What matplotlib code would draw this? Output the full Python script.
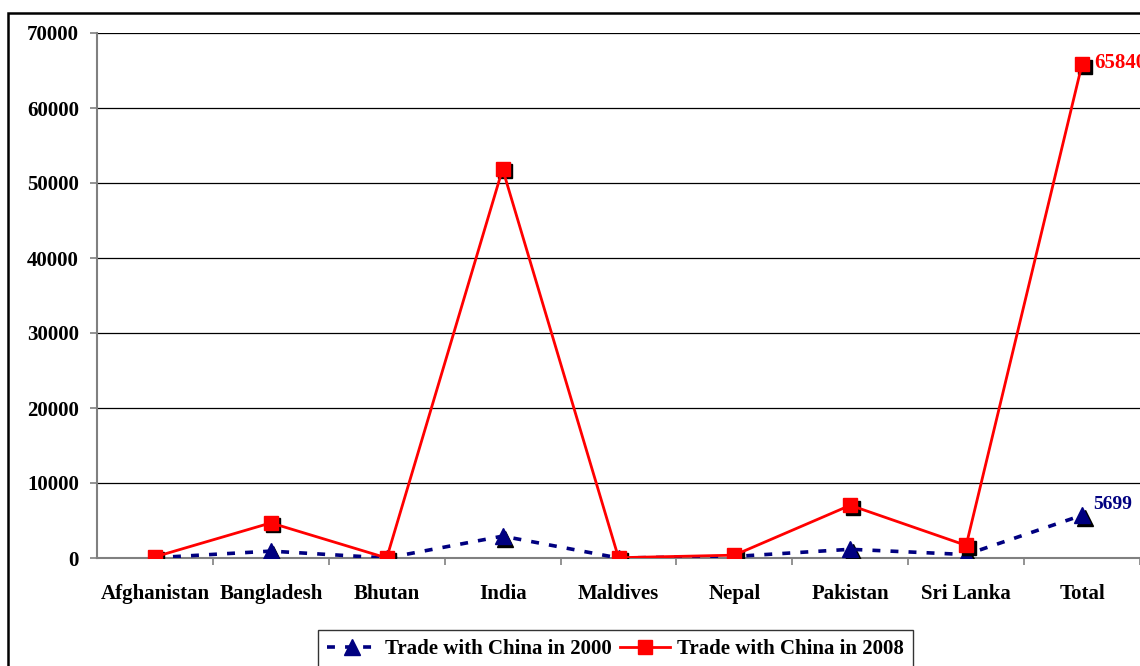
import matplotlib
matplotlib.use("Agg")
import matplotlib.pyplot as plt
import matplotlib.transforms as mtransforms
from matplotlib.patches import Rectangle
from matplotlib.lines import Line2D

# Bilateral trade with China (US$ million)
countries = ["Afghanistan", "Bangladesh", "Bhutan", "India", "Maldives",
             "Nepal", "Pakistan", "Sri Lanka", "Total"]
trade_2000 = [38, 918, 2, 2914, 3, 204, 1162, 458, 5699]
trade_2008 = [155, 4680, 5, 51870, 40, 380, 7030, 1680, 65840]
y_ticks = [0, 10000, 20000, 30000, 40000, 50000, 60000, 70000]

NAVY = "#000080"
RED = "#ff0000"
FONT = {"family": "Liberation Serif", "weight": "bold", "size": 15}

fig = plt.figure(figsize=(11.4, 6.66), dpi=100)
W, H = 1140, 666
ax = fig.add_axes([97 / W, (H - 558) / H, (W - 97) / W, (558 - 33) / H])

x = list(range(len(countries)))

# drop shadows for the markers
shadow = mtransforms.offset_copy(ax.transData, fig=fig, x=2.5, y=-2.5, units="dots")

ax.plot(x, trade_2000, linestyle="none", marker="^", markersize=11,
        color="black", transform=shadow, zorder=3)
ax.plot(x, trade_2000, linestyle=(0, (2.2, 2.8)), lw=2.6, color=NAVY,
        marker="^", markersize=11, markerfacecolor=NAVY, markeredgecolor=NAVY,
        zorder=4)

ax.plot(x, trade_2008, linestyle="none", marker="s", markersize=10,
        color="black", transform=shadow, zorder=5)
ax.plot(x, trade_2008, linestyle="-", lw=2.0, color=RED,
        marker="s", markersize=10, markerfacecolor=RED, markeredgecolor=RED,
        zorder=6)

# value labels at the totals
ax.annotate(f"{trade_2008[-1]}", (x[-1], trade_2008[-1]), xytext=(9, 1),
            textcoords="offset points", ha="left", va="center", color=RED,
            annotation_clip=False, **FONT)
ax.annotate(f"{trade_2000[-1]}", (x[-1], trade_2000[-1]), xytext=(8, 8),
            textcoords="offset points", ha="left", va="center", color=NAVY,
            annotation_clip=False, **{**FONT, "size": 14})

ax.set_xlim(-0.5, len(countries) - 0.5)
ax.set_ylim(0, 70000)
ax.set_yticks(y_ticks)
ax.set_yticklabels([str(v) for v in y_ticks], fontdict=FONT)
ax.yaxis.grid(True, color="black", lw=0.9)
ax.set_axisbelow(True)

ax.set_xticks(x)
ax.set_xticklabels(countries, fontdict=FONT)
ax.set_xticks([i + 0.5 for i in x], minor=True)
ax.tick_params(axis="x", which="major", length=0, pad=19)
ax.tick_params(axis="x", which="minor", length=5, color="#808080", width=1.2,
               direction="out")
ax.tick_params(axis="y", length=5, color="#808080", width=1.2, pad=8)

for side in ("top", "right"):
    ax.spines[side].set_visible(False)
for side in ("left", "bottom"):
    ax.spines[side].set_color("#808080")
    ax.spines[side].set_linewidth(1.5)
ax.spines["bottom"].set_zorder(2.5)

# legend
handles = [
    Line2D([], [], linestyle=(0, (2.2, 2.8)), lw=2.6, color=NAVY, marker="^",
           markersize=11),
    Line2D([], [], linestyle="-", lw=2.0, color=RED, marker="s", markersize=10),
]
leg = fig.legend(handles, ["Trade with China in 2000", "Trade with China in 2008"],
                 loc="upper left", bbox_to_anchor=(318 / W, (H - 630) / H),
                 ncol=2, frameon=True, fancybox=False, shadow=False,
                 prop={"family": "Liberation Serif", "weight": "bold", "size": 15},
                 handlelength=2.4, handletextpad=0.35, columnspacing=0.4,
                 borderpad=0.45, borderaxespad=0)
leg.get_frame().set_edgecolor("black")
leg.get_frame().set_linewidth(1.0)

# outer chart border
fig.patches.append(Rectangle((8 / W, -0.05), 1.1, (H - 13) / H + 0.05,
                             transform=fig.transFigure, fill=False,
                             edgecolor="black", lw=1.8))

fig.savefig("out.png", dpi=100)
